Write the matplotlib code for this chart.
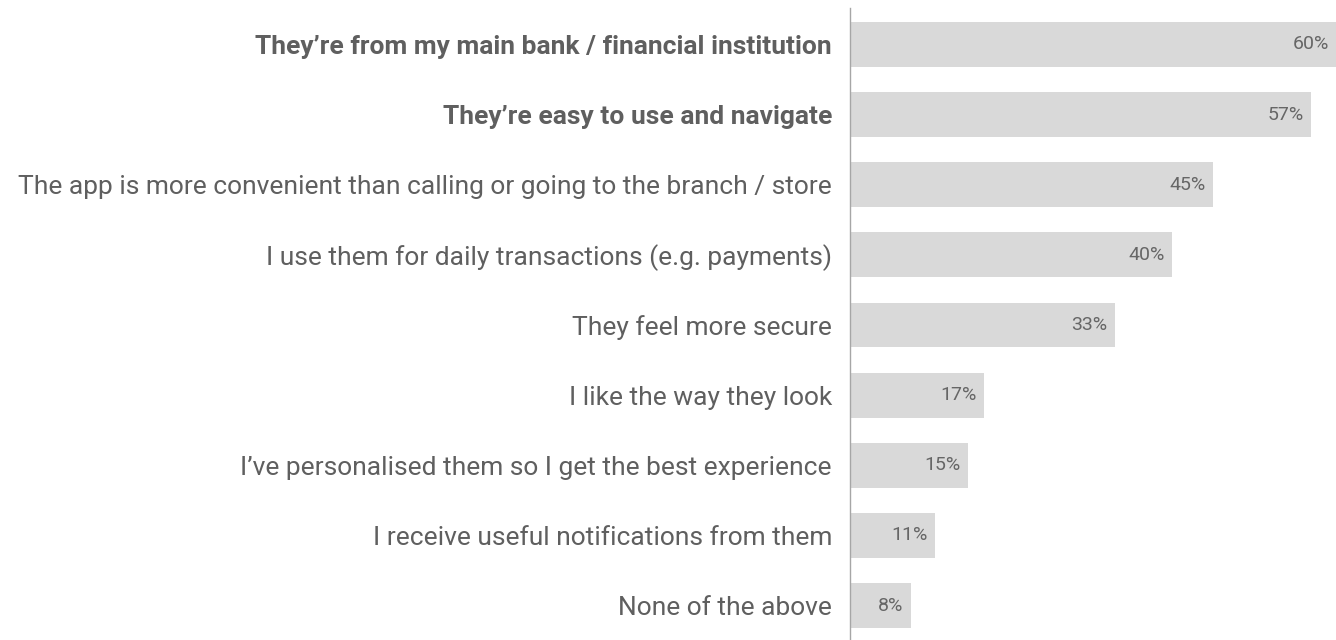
import matplotlib.pyplot as plt

# reasons for using the app, top to bottom
labels = [
    "They\u2019re from my main bank / financial institution",
    "They\u2019re easy to use and navigate",
    "The app is more convenient than calling or going to the branch / store",
    "I use them for daily transactions (e.g. payments)",
    "They feel more secure",
    "I like the way they look",
    "I\u2019ve personalised them so I get the best experience",
    "I receive useful notifications from them",
    "None of the above",
]
values = [60, 57, 45, 40, 33, 17, 15, 11, 8]
bold_rows = [0, 1]

plt.rcParams['font.family'] = ['Roboto', 'DejaVu Sans']
text_col = "#5f5f5f"

fig = plt.figure(figsize=(13.36, 6.4), dpi=100)
ax = fig.add_axes([850 / 1336, 0, 1 - 850 / 1336, (640 - 8) / 640])

ypos = list(range(len(values)))
ax.barh(ypos, values, height=0.64, color="#d9d9d9")
ax.set_ylim(8.49, -0.52)
ax.set_xlim(0.6, 60)

for i, v in enumerate(values):
    ax.text(v - 0.9, i, f"{v}%", ha="right", va="center", fontsize=14,
            color="#666666")

ax.set_yticks(ypos)
ax.set_yticklabels(labels, fontsize=19, color=text_col)
for i, t in enumerate(ax.get_yticklabels()):
    if i in bold_rows:
        t.set_fontweight("bold")
ax.tick_params(axis="y", length=0, pad=13)
ax.set_xticks([])

for s in ["top", "right", "bottom"]:
    ax.spines[s].set_visible(False)
ax.spines["left"].set_color("#a6a6a6")
ax.spines["left"].set_linewidth(1)

fig.savefig("out.png", dpi=100)
